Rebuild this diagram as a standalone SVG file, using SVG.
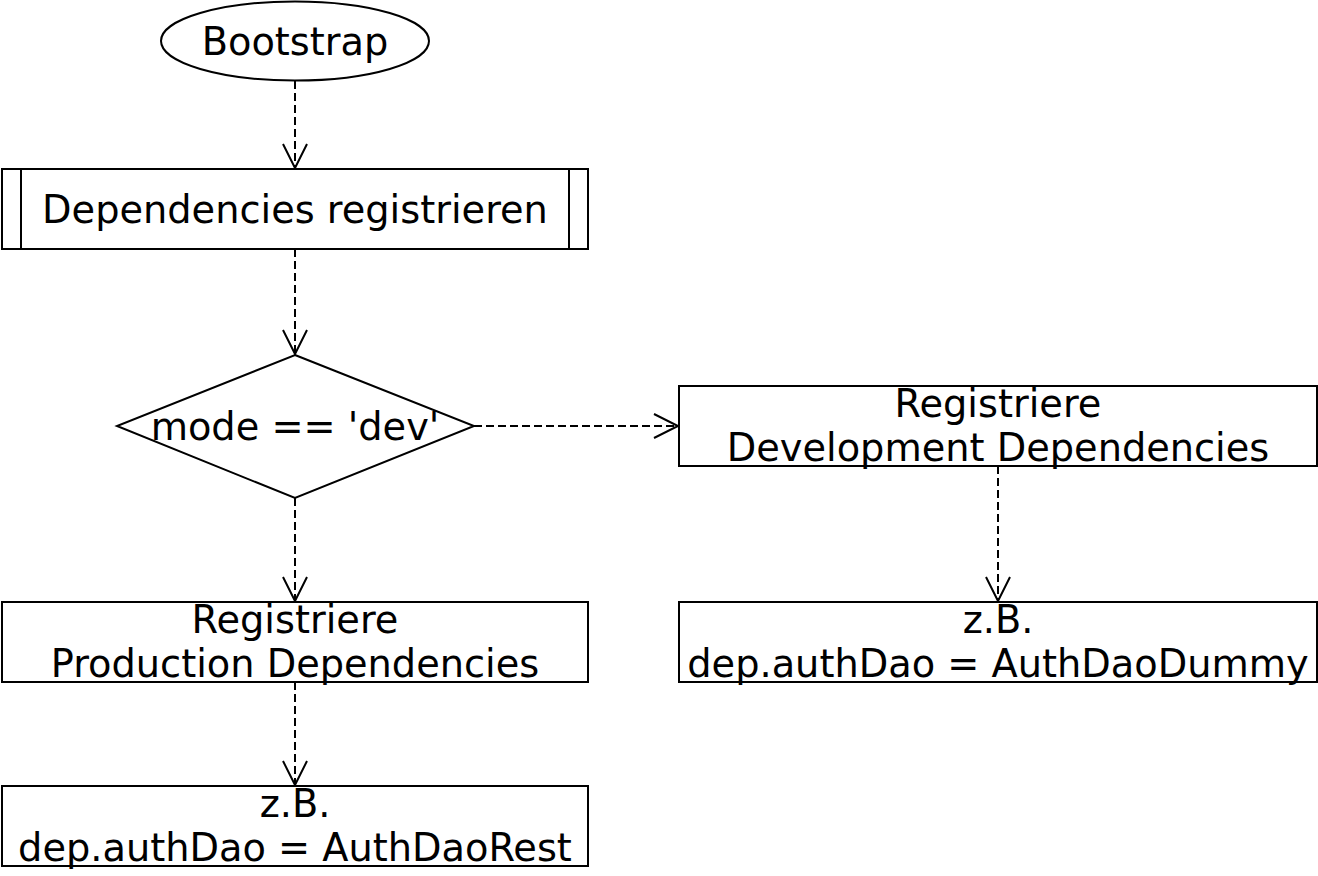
<svg xmlns="http://www.w3.org/2000/svg" width="1318" height="876" viewBox="0 0 1318 876">
<style>
.shape{fill:#fff;stroke:#000;stroke-width:2}
.lbl{font-family:"DejaVu Sans",sans-serif;font-size:38.3px;fill:#000;text-anchor:middle}
.edge{fill:none;stroke:#000;stroke-width:2;stroke-dasharray:8 4}
.head{fill:none;stroke:#000;stroke-width:2}
</style>
<rect width="1318" height="876" fill="#fff"/>
<g id="connectors">
<line class="edge" x1="295" y1="81" x2="295" y2="168"/>
<polyline class="head" points="283,144 295,168 307,144"/>
<line class="edge" x1="295" y1="249" x2="295" y2="354"/>
<polyline class="head" points="283,330 295,354 307,330"/>
<line class="edge" x1="474" y1="426" x2="678" y2="426"/>
<polyline class="head" points="654,414 678,426 654,438"/>
<line class="edge" x1="295" y1="498" x2="295" y2="601"/>
<polyline class="head" points="283,577 295,601 307,577"/>
<line class="edge" x1="998" y1="466" x2="998" y2="601"/>
<polyline class="head" points="986,577 998,601 1010,577"/>
<line class="edge" x1="295" y1="682" x2="295" y2="785"/>
<polyline class="head" points="283,761 295,785 307,761"/>
</g>
<g id="bootstrap">
<ellipse class="shape" cx="295" cy="41" rx="134" ry="39.5"/>
<text class="lbl" x="295" y="55">Bootstrap</text>
</g>
<g id="register">
<rect class="shape" x="2" y="169" width="586" height="80"/>
<line class="shape" x1="21" y1="169" x2="21" y2="249"/>
<line class="shape" x1="569" y1="169" x2="569" y2="249"/>
<text class="lbl" x="295" y="223">Dependencies registrieren</text>
</g>
<g id="decision">
<polygon class="shape" points="295,355 474,426 295,498 117,426"/>
<text class="lbl" x="295" y="440">mode == 'dev'</text>
</g>
<g id="devdeps">
<rect class="shape" x="679" y="386" width="638" height="80"/>
<text class="lbl" x="998" y="417">Registriere</text>
<text class="lbl" x="998" y="461">Development Dependencies</text>
</g>
<g id="proddeps">
<rect class="shape" x="2" y="602" width="586" height="80"/>
<text class="lbl" x="295" y="633">Registriere</text>
<text class="lbl" x="295" y="677">Production Dependencies</text>
</g>
<g id="devexample">
<rect class="shape" x="679" y="602" width="638" height="80"/>
<text class="lbl" x="998" y="633">z.B.</text>
<text class="lbl" x="998" y="677">dep.authDao = AuthDaoDummy</text>
</g>
<g id="prodexample">
<rect class="shape" x="2" y="786" width="586" height="80"/>
<text class="lbl" x="295" y="817">z.B.</text>
<text class="lbl" x="295" y="861">dep.authDao = AuthDaoRest</text>
</g>
</svg>
